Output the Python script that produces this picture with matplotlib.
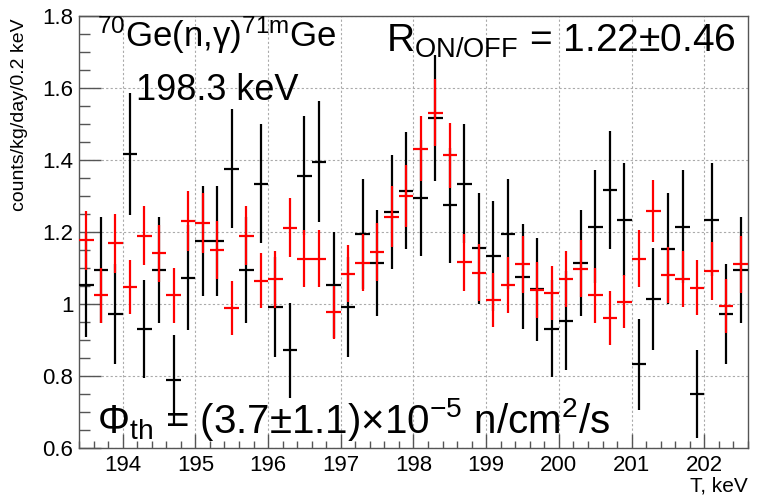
import numpy as np
import matplotlib
matplotlib.use("Agg")
import matplotlib.pyplot as plt
from matplotlib.ticker import MultipleLocator, FuncFormatter

# bin centres, keV (0.2 keV bins)
t_kev = np.round(np.arange(193.5, 202.51, 0.2), 1)

# black series
black_val = [1.052, 1.094, 0.973, 1.416, 0.931, 1.094, 0.790, 1.073, 1.175, 1.175,
             1.375, 1.094, 1.334, 0.992, 0.871, 1.356, 1.394, 1.052, 0.992, 1.195,
             1.114, 1.255, 1.314, 1.294, 1.517, 1.274, 1.334, 1.154, 1.133, 1.195,
             1.075, 1.040, 0.931, 0.953, 1.114, 1.214, 1.316, 1.234, 0.832, 1.013,
             1.153, 1.214, 0.751, 1.234, 0.971, 1.094]
black_err = [0.145, 0.148, 0.139, 0.169, 0.136, 0.148, 0.125, 0.145, 0.152, 0.152,
             0.165, 0.148, 0.164, 0.139, 0.132, 0.166, 0.168, 0.148, 0.139, 0.153,
             0.148, 0.158, 0.162, 0.162, 0.175, 0.160, 0.164, 0.153, 0.152, 0.153,
             0.146, 0.143, 0.134, 0.137, 0.148, 0.157, 0.163, 0.157, 0.127, 0.141,
             0.154, 0.157, 0.122, 0.157, 0.139, 0.148]

# red series
red_val = [1.177, 1.024, 1.168, 1.047, 1.189, 1.140, 1.024, 1.230, 1.225, 1.149,
           0.989, 1.189, 1.064, 1.068, 1.212, 1.126, 1.126, 0.977, 1.084, 1.114,
           1.144, 1.242, 1.299, 1.431, 1.531, 1.413, 1.115, 1.086, 1.012, 1.053,
           1.110, 1.038, 1.029, 1.069, 1.098, 1.024, 0.961, 1.006, 1.126, 1.258,
           1.081, 1.069, 1.045, 1.092, 0.994, 1.110]
red_err = [0.082, 0.076, 0.082, 0.076, 0.082, 0.080, 0.076, 0.083, 0.083, 0.080,
           0.075, 0.082, 0.076, 0.078, 0.082, 0.079, 0.080, 0.074, 0.080, 0.079,
           0.081, 0.084, 0.086, 0.090, 0.094, 0.090, 0.080, 0.079, 0.075, 0.078,
           0.079, 0.077, 0.075, 0.078, 0.079, 0.077, 0.074, 0.074, 0.079, 0.085,
           0.078, 0.078, 0.077, 0.080, 0.074, 0.079]

plt.rcParams['font.family'] = ['Liberation Sans', 'DejaVu Sans']
plt.rcParams['mathtext.fontset'] = 'custom'
plt.rcParams['mathtext.rm'] = 'Liberation Sans'
plt.rcParams['mathtext.it'] = 'Liberation Sans:italic'

W, H = 757, 495
fig = plt.figure(figsize=(W / 100, H / 100), dpi=100)
ax = fig.add_axes([79 / W, 1 - 448 / H, (748 - 79) / W, (448 - 15.7) / H])

ax.errorbar(t_kev, black_val, xerr=0.1, yerr=black_err, fmt='none',
            ecolor='black', elinewidth=1.6, capsize=0, zorder=3)
ax.errorbar(t_kev, red_val, xerr=0.1, yerr=red_err, fmt='none',
            ecolor='#ff0000', elinewidth=1.6, capsize=0, zorder=4)

ax.set_xlim(193.4, 202.6)
ax.set_ylim(0.6, 1.8)
ax.xaxis.set_major_locator(MultipleLocator(1))
ax.xaxis.set_minor_locator(MultipleLocator(0.2))
ax.yaxis.set_major_locator(MultipleLocator(0.2))
ax.yaxis.set_minor_locator(MultipleLocator(0.05))
ax.yaxis.set_major_formatter(FuncFormatter(lambda v, p: '%g' % round(v, 2)))
ax.tick_params(axis='both', which='both', direction='in', colors='#555555',
               labelcolor='black', labelsize=16)
ax.tick_params(axis='x', which='major', length=10, width=1, pad=5)
ax.tick_params(axis='x', which='minor', length=5, width=1)
ax.tick_params(axis='y', which='major', length=16, width=1, pad=4)
ax.tick_params(axis='y', which='minor', length=8, width=1)
ax.grid(True, which='major', color='#aaaaaa', linestyle=(0, (2, 2)), linewidth=0.8)
for s in ax.spines.values():
    s.set_color('#555555')
    s.set_linewidth(1)

def px(x, y):
    return x / W, 1 - y / H

fig.text(*px(748, 492), 'T, keV', ha='right', va='baseline', fontsize=15)
fig.text(*px(11, 18), 'counts/kg/day/0.2 keV', rotation=90, ha='left', va='top',
         fontsize=14)

fig.text(*px(97, 47), r'$^{70}$Ge(n,γ)$^{71\mathrm{m}}$Ge', ha='left', va='baseline',
         fontsize=25)
fig.text(*px(136, 100), '198.3 keV', ha='left', va='baseline', fontsize=26)
fig.text(*px(386, 52), r'R$_{\mathrm{ON/OFF}}$ = 1.22±0.46', ha='left', va='baseline',
         fontsize=28)
fig.text(*px(97, 433), r'Φ$_{\mathrm{th}}$ = (3.7±1.1)×10$^{-5}$ n/cm$^{2}$/s',
         ha='left', va='baseline', fontsize=29)

fig.savefig('out.png', dpi=100)
